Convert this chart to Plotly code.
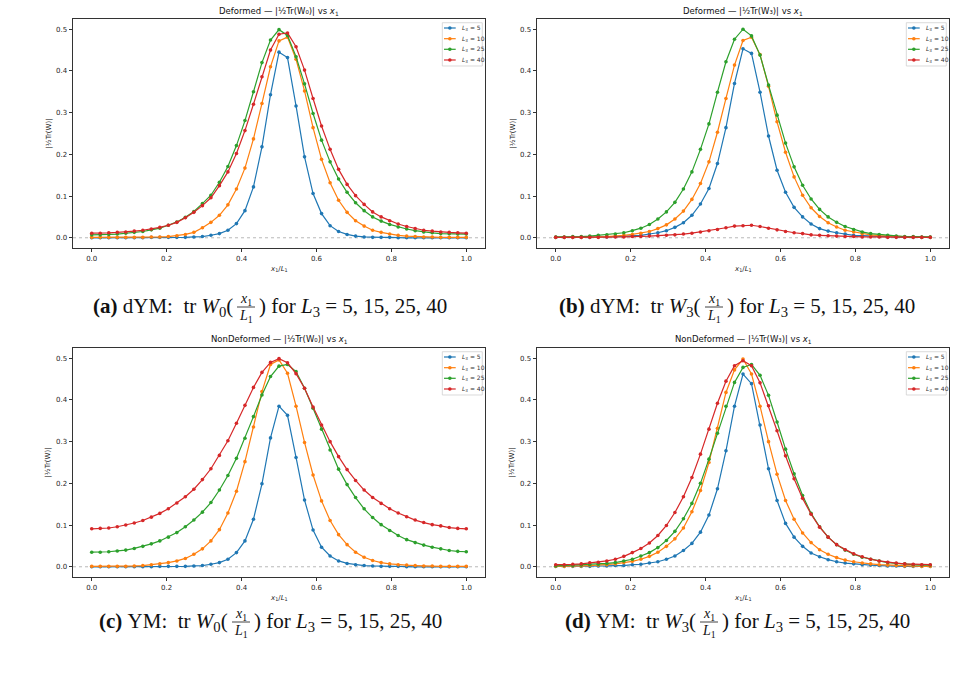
import plotly.graph_objects as go

W, H = 956, 679

X1 = [0.0, 0.0227, 0.0455, 0.0682, 0.0909, 0.1136, 0.1364, 0.1591, 0.1818, 0.2045,
      0.2273, 0.25, 0.2727, 0.2955, 0.3182, 0.3409, 0.3636, 0.3864, 0.4091, 0.4318,
      0.4545, 0.4773, 0.5, 0.5227, 0.5455, 0.5682, 0.5909, 0.6136, 0.6364, 0.6591,
      0.6818, 0.7045, 0.7273, 0.75, 0.7727, 0.7955, 0.8182, 0.8409, 0.8636, 0.8864,
      0.9091, 0.9318, 0.9545, 0.9773, 1.0]

L3_LABELS = ["5", "10", "25", "40"]
COLORS = ["#1f77b4", "#ff7f0e", "#2ca02c", "#d62728"]

# Deformed, W0
DEF_W0_L5 = [0, 0, 0, 0, 0, 0, 0, 0.001, 0.001, 0.001,
             0.001, 0.001, 0.002, 0.003, 0.006, 0.010, 0.018, 0.034, 0.065, 0.122,
             0.218, 0.343, 0.445, 0.432, 0.316, 0.194, 0.106, 0.058, 0.029, 0.015,
             0.008, 0.004, 0.002, 0.001, 0.001, 0.001, 0, 0, 0, 0,
             0, 0, 0, 0, 0]
DEF_W0_L10 = [0.001, 0.001, 0.001, 0.001, 0.001, 0.001, 0.001, 0.002, 0.002, 0.003,
              0.005, 0.008, 0.013, 0.024, 0.037, 0.054, 0.079, 0.117, 0.167, 0.237,
              0.322, 0.410, 0.472, 0.481, 0.428, 0.352, 0.264, 0.188, 0.132, 0.090,
              0.061, 0.041, 0.028, 0.018, 0.013, 0.009, 0.006, 0.004, 0.003, 0.002,
              0.002, 0.001, 0.001, 0.001, 0.001]
DEF_W0_L25 = [0.007, 0.007, 0.008, 0.009, 0.011, 0.013, 0.015, 0.019, 0.023, 0.030,
              0.038, 0.049, 0.063, 0.082, 0.102, 0.133, 0.171, 0.221, 0.281, 0.350,
              0.420, 0.474, 0.499, 0.485, 0.434, 0.369, 0.298, 0.234, 0.182, 0.141,
              0.109, 0.084, 0.065, 0.050, 0.040, 0.032, 0.026, 0.021, 0.017, 0.014,
              0.012, 0.010, 0.0095, 0.009, 0.009]
DEF_W0_L40 = [0.011, 0.011, 0.012, 0.013, 0.014, 0.016, 0.018, 0.021, 0.025, 0.030,
              0.037, 0.048, 0.061, 0.077, 0.096, 0.125, 0.158, 0.202, 0.257, 0.320,
              0.386, 0.450, 0.488, 0.491, 0.458, 0.402, 0.334, 0.268, 0.212, 0.164,
              0.128, 0.101, 0.080, 0.062, 0.050, 0.041, 0.033, 0.027, 0.022, 0.018,
              0.016, 0.014, 0.013, 0.012, 0.011]

# Deformed, W3
DEF_W3_L5 = [0.001, 0.001, 0.001, 0.001, 0.001, 0.002, 0.002, 0.003, 0.004, 0.005,
             0.006, 0.009, 0.012, 0.017, 0.025, 0.036, 0.054, 0.081, 0.118, 0.178,
             0.264, 0.370, 0.453, 0.442, 0.349, 0.244, 0.162, 0.109, 0.073, 0.050,
             0.033, 0.022, 0.016, 0.012, 0.009, 0.006, 0.005, 0.004, 0.003, 0.002,
             0.002, 0.001, 0.001, 0.001, 0.001]
DEF_W3_L10 = [0.001, 0.001, 0.001, 0.001, 0.002, 0.002, 0.003, 0.004, 0.006, 0.008,
              0.011, 0.015, 0.022, 0.031, 0.045, 0.064, 0.092, 0.130, 0.182, 0.253,
              0.334, 0.414, 0.473, 0.481, 0.439, 0.363, 0.278, 0.205, 0.146, 0.102,
              0.072, 0.051, 0.036, 0.026, 0.018, 0.014, 0.010, 0.007, 0.005, 0.004,
              0.003, 0.002, 0.002, 0.001, 0.001]
DEF_W3_L25 = [0.002, 0.002, 0.003, 0.003, 0.004, 0.006, 0.007, 0.009, 0.012, 0.017,
              0.023, 0.032, 0.045, 0.062, 0.085, 0.117, 0.158, 0.212, 0.273, 0.349,
              0.422, 0.476, 0.500, 0.484, 0.438, 0.366, 0.294, 0.227, 0.170, 0.126,
              0.093, 0.068, 0.050, 0.037, 0.027, 0.020, 0.014, 0.010, 0.008, 0.006,
              0.004, 0.003, 0.003, 0.002, 0.002]
DEF_W3_L40 = [0.001, 0.001, 0.001, 0.001, 0.001, 0.001, 0.002, 0.002, 0.002, 0.003,
              0.003, 0.004, 0.005, 0.006, 0.007, 0.009, 0.011, 0.014, 0.017, 0.020,
              0.024, 0.028, 0.029, 0.030, 0.027, 0.023, 0.019, 0.015, 0.012, 0.010,
              0.007, 0.006, 0.005, 0.004, 0.003, 0.003, 0.002, 0.002, 0.002, 0.001,
              0.001, 0.001, 0.001, 0.001, 0.001]

# NonDeformed, W0
NON_W0_L5 = [0, 0, 0, 0, 0, 0, 0, 0, 0.001, 0.001,
             0.001, 0.001, 0.002, 0.003, 0.006, 0.010, 0.018, 0.034, 0.062, 0.114,
             0.199, 0.309, 0.385, 0.363, 0.262, 0.160, 0.088, 0.047, 0.026, 0.014,
             0.008, 0.005, 0.003, 0.002, 0.001, 0.001, 0.001, 0, 0, 0,
             0, 0, 0, 0, 0]
NON_W0_L10 = [0.001, 0.001, 0.001, 0.001, 0.001, 0.002, 0.003, 0.005, 0.007, 0.010,
              0.014, 0.020, 0.030, 0.043, 0.062, 0.089, 0.129, 0.181, 0.252, 0.335,
              0.420, 0.485, 0.496, 0.464, 0.385, 0.298, 0.220, 0.158, 0.111, 0.077,
              0.053, 0.035, 0.023, 0.015, 0.010, 0.007, 0.005, 0.004, 0.003, 0.002,
              0.002, 0.001, 0.001, 0.001, 0.001]
NON_W0_L25 = [0.035, 0.035, 0.036, 0.038, 0.040, 0.044, 0.049, 0.055, 0.062, 0.071,
              0.082, 0.096, 0.112, 0.131, 0.154, 0.184, 0.219, 0.260, 0.308, 0.360,
              0.412, 0.456, 0.481, 0.485, 0.468, 0.428, 0.380, 0.330, 0.280, 0.234,
              0.197, 0.166, 0.139, 0.118, 0.101, 0.087, 0.075, 0.065, 0.058, 0.052,
              0.047, 0.043, 0.039, 0.037, 0.036]
NON_W0_L40 = [0.091, 0.092, 0.093, 0.096, 0.100, 0.105, 0.111, 0.119, 0.128, 0.139,
              0.153, 0.168, 0.186, 0.209, 0.235, 0.267, 0.302, 0.344, 0.387, 0.430,
              0.466, 0.490, 0.499, 0.489, 0.463, 0.428, 0.383, 0.340, 0.300, 0.264,
              0.233, 0.207, 0.184, 0.166, 0.152, 0.139, 0.129, 0.120, 0.112, 0.106,
              0.101, 0.098, 0.094, 0.092, 0.091]

# NonDeformed, W3
NON_W3_L5 = [0.001, 0.001, 0.001, 0.001, 0.001, 0.002, 0.002, 0.003, 0.003, 0.005,
             0.006, 0.009, 0.012, 0.018, 0.026, 0.039, 0.056, 0.083, 0.124, 0.187,
             0.278, 0.385, 0.462, 0.439, 0.340, 0.235, 0.159, 0.104, 0.071, 0.049,
             0.033, 0.024, 0.017, 0.012, 0.009, 0.007, 0.005, 0.004, 0.003, 0.002,
             0.002, 0.001, 0.001, 0.001, 0.001]
NON_W3_L10 = [0.001, 0.001, 0.002, 0.002, 0.003, 0.004, 0.005, 0.007, 0.010, 0.013,
              0.018, 0.025, 0.035, 0.049, 0.067, 0.093, 0.132, 0.183, 0.250, 0.332,
              0.418, 0.472, 0.498, 0.462, 0.385, 0.300, 0.222, 0.159, 0.114, 0.081,
              0.058, 0.041, 0.030, 0.022, 0.016, 0.012, 0.009, 0.007, 0.005, 0.004,
              0.003, 0.002, 0.002, 0.001, 0.001]
NON_W3_L25 = [0.002, 0.003, 0.003, 0.004, 0.005, 0.006, 0.008, 0.010, 0.014, 0.018,
              0.026, 0.034, 0.046, 0.063, 0.085, 0.115, 0.152, 0.200, 0.258, 0.320,
              0.385, 0.442, 0.478, 0.485, 0.459, 0.411, 0.347, 0.282, 0.223, 0.171,
              0.128, 0.096, 0.071, 0.053, 0.040, 0.030, 0.023, 0.018, 0.014, 0.010,
              0.008, 0.007, 0.005, 0.004, 0.004]
NON_W3_L40 = [0.005, 0.005, 0.006, 0.007, 0.0095, 0.011, 0.014, 0.018, 0.025, 0.034,
              0.044, 0.057, 0.075, 0.099, 0.130, 0.168, 0.214, 0.270, 0.330, 0.392,
              0.445, 0.482, 0.494, 0.482, 0.441, 0.386, 0.326, 0.266, 0.211, 0.164,
              0.126, 0.095, 0.071, 0.053, 0.041, 0.031, 0.024, 0.018, 0.014, 0.011,
              0.009, 0.007, 0.006, 0.005, 0.005]

X_TICKS = [0.0, 0.2, 0.4, 0.6, 0.8, 1.0]
Y_TICKS = [0.0, 0.1, 0.2, 0.3, 0.4, 0.5]

TITLES = [
    "Deformed — |½Tr(W₀)| vs <i>x</i><sub>1</sub>",
    "Deformed — |½Tr(W₃)| vs <i>x</i><sub>1</sub>",
    "NonDeformed — |½Tr(W₀)| vs <i>x</i><sub>1</sub>",
    "NonDeformed — |½Tr(W₃)| vs <i>x</i><sub>1</sub>",
]
SERIES = [
    [DEF_W0_L5, DEF_W0_L10, DEF_W0_L25, DEF_W0_L40],
    [DEF_W3_L5, DEF_W3_L10, DEF_W3_L25, DEF_W3_L40],
    [NON_W0_L5, NON_W0_L10, NON_W0_L25, NON_W0_L40],
    [NON_W3_L5, NON_W3_L10, NON_W3_L25, NON_W3_L40],
]
NB = "\u00a0"
CAPTION_LEFT = [
    "<b>(a)</b>" + NB + "dYM:" + NB * 2 + "tr" + NB + "<i>W</i><sub>0</sub>(",
    "<b>(b)</b>" + NB + "dYM:" + NB * 2 + "tr" + NB + "<i>W</i><sub>3</sub>(",
    "<b>(c)</b>" + NB + "YM:" + NB * 2 + "tr" + NB + "<i>W</i><sub>0</sub>(",
    "<b>(d)</b>" + NB + "YM:" + NB * 2 + "tr" + NB + "<i>W</i><sub>3</sub>(",
]
CAPTION_RIGHT = ") for <i>L</i><sub>3</sub> = 5, 15, 25, 40"

# layout geometry (pixels)
X_DOMS = [(73, 485), (537, 949), (73, 485), (537, 949)]
Y_DOMS = [(19, 248), (19, 248), (348, 577), (348, 577)]
FRAC_CENTERS = [(246, 307), (714, 307), (241, 622), (709, 622)]


def px(x):
    return x / W


def py(y):
    return 1 - y / H


fig = go.Figure()
layout = dict(
    width=W, height=H, autosize=False,
    margin=dict(l=0, r=0, t=0, b=0),
    paper_bgcolor="white", plot_bgcolor="white",
    showlegend=False,
    font=dict(family="DejaVu Sans", color="#262626"),
)
annotations = []
shapes = []

axis_common = dict(
    showline=True, mirror=True, linecolor="#333333", linewidth=0.8,
    ticks="outside", ticklen=3.5, tickwidth=0.8, tickcolor="#333333",
    showgrid=False, zeroline=False,
    tickfont=dict(family="DejaVu Sans", size=7, color="#262626"),
)

LEG_Y = [0.9607, 0.914, 0.8677, 0.821]

for k in range(4):
    n = "" if k == 0 else str(k + 1)
    xa, ya = "x" + n, "y" + n
    for j in range(4):
        fig.add_trace(go.Scatter(
            x=X1, y=SERIES[k][j], mode="lines+markers",
            name="L3 = " + L3_LABELS[j],
            line=dict(color=COLORS[j], width=1.2),
            marker=dict(color=COLORS[j], size=3.6),
            xaxis=xa, yaxis=ya,
        ))
    x0, x1 = X_DOMS[k]
    y0, y1 = Y_DOMS[k]
    layout["xaxis" + n] = dict(
        axis_common, domain=[px(x0), px(x1)], range=[-0.05, 1.05],
        anchor=ya, tickvals=X_TICKS, tickformat=".1f",
    )
    layout["yaxis" + n] = dict(
        axis_common, domain=[py(y1), py(y0)], range=[-0.0245, 0.5245],
        anchor=xa, tickvals=Y_TICKS, tickformat=".1f",
    )
    xd, yd = xa + " domain", ya + " domain"
    # zero reference line
    shapes.append(dict(type="line", xref=xd, yref=ya, x0=0, x1=1, y0=0, y1=0,
                       line=dict(color="#b8b8b8", width=1, dash="dot"), layer="below"))
    # titles
    annotations.append(dict(text=TITLES[k], xref=xd, yref=yd, x=0.5, y=1,
                            xanchor="center", yanchor="middle", yshift=8, showarrow=False,
                            font=dict(family="DejaVu Sans", size=8.5, color="#111111")))
    annotations.append(dict(text="<i>x</i><sub>1</sub>/<i>L</i><sub>1</sub>", xref=xd, yref=yd,
                            x=0.5, y=0, xanchor="center", yanchor="middle", yshift=-21,
                            showarrow=False,
                            font=dict(family="DejaVu Sans", size=7, color="#262626")))
    annotations.append(dict(text="|½Tr(W)|", xref=xd, yref=yd, x=0, y=0.5,
                            xanchor="center", yanchor="middle", xshift=-25, textangle=-90,
                            showarrow=False,
                            font=dict(family="DejaVu Sans", size=7, color="#262626")))
    # legend (manual, compact like matplotlib)
    shapes.append(dict(type="rect", xref=xd, yref=yd, x0=0.8964, x1=0.9934,
                       y0=0.7948, y1=0.9838, line=dict(color="#d0d0d0", width=0.8),
                       fillcolor="rgba(255,255,255,0.85)", layer="above"))
    for j in range(4):
        shapes.append(dict(type="line", xref=xd, yref=yd, x0=0.9005, x1=0.9289,
                           y0=LEG_Y[j], y1=LEG_Y[j],
                           line=dict(color=COLORS[j], width=1.2), layer="above"))
        shapes.append(dict(type="circle", xref=xd, yref=yd, xsizemode="pixel",
                           ysizemode="pixel", xanchor=0.9147, yanchor=LEG_Y[j],
                           x0=-1.8, x1=1.8, y0=-1.8, y1=1.8,
                           fillcolor=COLORS[j], line=dict(width=0), layer="above"))
        annotations.append(dict(text="<i>L</i><sub>3</sub> = " + L3_LABELS[j],
                                xref=xd, yref=yd, x=0.939, y=LEG_Y[j],
                                xanchor="left", yanchor="middle", showarrow=False,
                                font=dict(family="DejaVu Sans", size=6, color="#333333")))
    # caption below panel
    cx, cy = FRAC_CENTERS[k]
    cap_font = dict(family="Liberation Serif", size=21, color="#111111")
    annotations.append(dict(text=CAPTION_LEFT[k], xref="paper", yref="paper",
                            x=px(cx - 11), y=py(cy), xanchor="right", yanchor="middle",
                            showarrow=False, font=cap_font))
    annotations.append(dict(text=CAPTION_RIGHT, xref="paper", yref="paper",
                            x=px(cx + 11), y=py(cy), xanchor="left", yanchor="middle",
                            showarrow=False, font=cap_font))
    frac_font = dict(family="Liberation Serif", size=14, color="#111111")
    annotations.append(dict(text="<i>x</i><sub>1</sub>", xref="paper", yref="paper",
                            x=px(cx), y=py(cy - 8), xanchor="center", yanchor="middle",
                            showarrow=False, font=frac_font))
    annotations.append(dict(text="<i>L</i><sub>1</sub>", xref="paper", yref="paper",
                            x=px(cx), y=py(cy + 9), xanchor="center", yanchor="middle",
                            showarrow=False, font=frac_font))
    shapes.append(dict(type="line", xref="paper", yref="paper",
                       x0=px(cx - 9), x1=px(cx + 9), y0=py(cy), y1=py(cy),
                       line=dict(color="#111111", width=0.8)))

layout["annotations"] = annotations
layout["shapes"] = shapes
fig.update_layout(**layout)
fig.write_html("out.html")
